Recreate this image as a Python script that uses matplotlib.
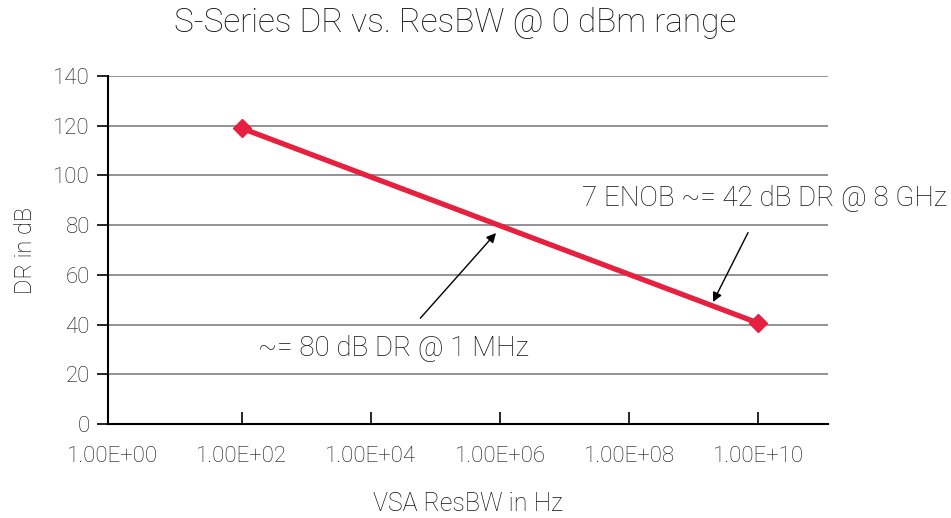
import matplotlib.pyplot as plt

plt.rcParams['font.family'] = ['Roboto', 'DejaVu Sans']
plt.rcParams['font.weight'] = 'light'
plt.rcParams['axes.labelweight'] = 'light'

# data
res_bw = [1e2, 1e10]
dr_db = [119, 40.6]
x_ticks = [1e0, 1e2, 1e4, 1e6, 1e8, 1e10]
x_tick_labels = ["1.00E+00", "1.00E+02", "1.00E+04", "1.00E+06", "1.00E+08", "1.00E+10"]
y_ticks = [0, 20, 40, 60, 80, 100, 120, 140]

red = '#E8203F'
txt = '#111111'

fig = plt.figure(figsize=(9.51, 5.18), dpi=100)
ax = fig.add_axes([108 / 951, 1 - 424 / 518, 720 / 951, 348 / 518])

ax.plot(res_bw, dr_db, color=red, lw=3.8, marker='D', ms=9.5, zorder=3, clip_on=False)

ax.set_xscale('log')
ax.set_xlim(10 ** -0.07, 10 ** 11.08)
ax.set_ylim(0, 140)
ax.set_xticks(x_ticks)
ax.set_xticklabels(x_tick_labels)
ax.minorticks_off()
ax.set_yticks(y_ticks)
ax.xaxis.get_major_ticks()[0].tick1line.set_visible(False)

ax.yaxis.grid(True, color='#8a8a8a', lw=1.3)
ax.set_axisbelow(True)
for s in ['top', 'right']:
    ax.spines[s].set_visible(False)
for s in ['left', 'bottom']:
    ax.spines[s].set_linewidth(1.5)
ax.tick_params(axis='y', direction='out', length=8, width=1.2, labelsize=16, pad=5)
ax.tick_params(axis='x', direction='in', length=9, width=1.2, labelsize=16, pad=16)
ax.tick_params(colors='black', which='both', labelcolor=txt)

fig.text(455 / 951, 1 - 23 / 518, "S-Series DR vs. ResBW @ 0 dBm range", fontsize=24,
         color=txt, ha='center', va='center')
ax.set_xlabel("VSA ResBW in Hz", fontsize=18, color=txt, labelpad=18)
ax.set_ylabel("DR in dB", fontsize=17, color=txt, labelpad=12)

ax.annotate("7 ENOB ~= 42 dB DR @ 8 GHz", xy=(713, 518 - 302), xycoords='figure pixels',
            xytext=(765, 518 - 199), textcoords='figure pixels', ha='center', va='center',
            fontsize=20, color=txt,
            arrowprops=dict(arrowstyle='-|>', color='black', lw=1, shrinkA=14, shrinkB=0,
                            mutation_scale=14))
ax.annotate("~= 80 dB DR @ 1 MHz", xy=(496, 518 - 233), xycoords='figure pixels',
            xytext=(393, 518 - 349), textcoords='figure pixels', ha='center', va='center',
            fontsize=20, color=txt,
            arrowprops=dict(arrowstyle='-|>', color='black', lw=1, shrinkA=14, shrinkB=0,
                            mutation_scale=14))

fig.savefig("out.png", dpi=100)
